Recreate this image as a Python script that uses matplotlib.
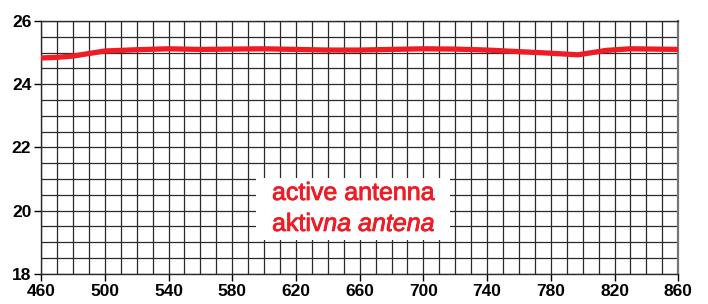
import matplotlib

matplotlib.use("Agg")

import matplotlib.pyplot as plt
import matplotlib.patheffects as pe
from matplotlib.patches import Rectangle
import numpy as np

# Gain of the active antenna
wavelength = [460, 470, 480, 490, 500, 520, 540, 560, 580, 600, 620, 640,
              660, 680, 700, 720, 740, 760, 780, 797, 815, 830, 845, 860]
gain = [24.83, 24.85, 24.89, 24.97, 25.05, 25.09, 25.12, 25.10, 25.11, 25.12,
        25.10, 25.08, 25.08, 25.10, 25.12, 25.11, 25.08, 25.03, 24.98, 24.93,
        25.07, 25.12, 25.11, 25.10]

x_ticks = [460, 500, 540, 580, 620, 660, 700, 740, 780, 820, 860]
y_ticks = [18, 20, 22, 24, 26]

RED = "#ee1c25"

plt.rcParams["font.family"] = ["Liberation Sans", "DejaVu Sans"]

fig = plt.figure(figsize=(7.08, 3.04), dpi=100)
ax = fig.add_axes([0.058, 0.099, 0.9, 0.832])

ax.set_xlim(460, 860)
ax.set_ylim(18, 26)

ax.set_xticks(x_ticks)
ax.set_yticks(y_ticks)
ax.set_xticks(np.arange(460, 861, 10), minor=True)
ax.set_yticks(np.arange(18, 26.01, 0.5), minor=True)
ax.tick_params(axis="both", which="major", direction="out", length=5,
               width=1, labelsize=12.5, pad=2)
ax.tick_params(axis="both", which="minor", length=0)
for label in ax.get_xticklabels() + ax.get_yticklabels():
    label.set_fontweight("bold")

ax.grid(which="both", color="#2a2a2a", linewidth=0.9)
ax.set_axisbelow(True)
for spine in ax.spines.values():
    spine.set_color("#2a2a2a")
    spine.set_linewidth(1.0)
ax.spines["right"].set_color("#777777")
ax.spines["right"].set_linewidth(1.6)

ax.plot(wavelength, gain, color=RED, linewidth=3.8, solid_capstyle="butt",
        zorder=3)

# White label box, text slightly heavier than regular weight
thick = [pe.withStroke(linewidth=0.6, foreground=RED)]
ax.add_patch(Rectangle((595, 19.07), 122, 1.96, facecolor="white",
                       edgecolor="none", zorder=4))
ax.text(656, 20.56, "active antenna", color=RED, fontsize=18,
        ha="center", va="center", zorder=5, path_effects=thick)
part = ax.text(605, 19.58, "aktiv", color=RED, fontsize=18,
               ha="left", va="center", zorder=5, path_effects=thick)
ax.annotate("na antena", xy=(1, 0), xycoords=part, color=RED, fontsize=18,
            style="italic", ha="left", va="bottom", zorder=5,
            path_effects=thick)

fig.savefig("out.png", dpi=100)
plt.close(fig)
